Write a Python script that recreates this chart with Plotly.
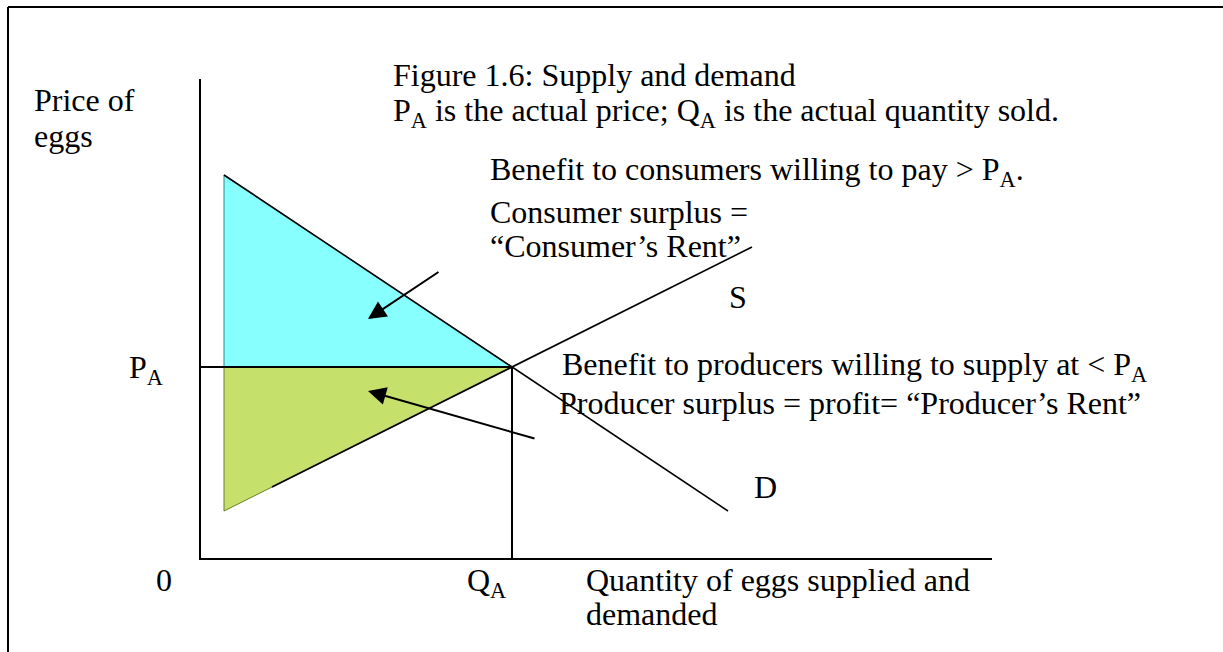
import plotly.graph_objects as go

# diagram units: quantity (x) and price (y)
eq_q = 13
eq_p = 8
demand_q = [1, 22]
demand_p = [16, 2]
supply_q = [3, 23]
supply_p = [3, 13]
cs_q = [1, 1, eq_q, 1]
cs_p = [16, eq_p, eq_p, 16]
ps_q = [1, 1, eq_q, 1]
ps_p = [eq_p, 2, eq_p, eq_p]
axis_q_max = 33
axis_p_max = 20

W, H = 1223, 652
OX, OY, U = 200, 559, 24  # pixel origin and pixels per unit


def at(px, py):
    return (px - OX) / U, (OY - py) / U


FONT = dict(family="Liberation Serif, Times New Roman, serif", size=32, color="black")

fig = go.Figure()

fig.add_trace(go.Scatter(x=cs_q, y=cs_p, fill="toself", fillcolor="#88FFFF",
                         mode="lines", line=dict(color="#2a8a8a", width=1),
                         hoverinfo="skip"))
fig.add_trace(go.Scatter(x=ps_q, y=ps_p, fill="toself", fillcolor="#C6E06C",
                         mode="lines", line=dict(color="#6b7d20", width=1),
                         hoverinfo="skip"))

# axes
fig.add_trace(go.Scatter(x=[0, 0, axis_q_max], y=[axis_p_max, 0, 0], mode="lines",
                         line=dict(color="black", width=2), hoverinfo="skip"))
# price / quantity guides
fig.add_trace(go.Scatter(x=[0, eq_q, eq_q], y=[eq_p, eq_p, 0], mode="lines",
                         line=dict(color="black", width=2), hoverinfo="skip"))
# demand and supply
fig.add_trace(go.Scatter(x=demand_q, y=demand_p, mode="lines",
                         line=dict(color="black", width=1.6), hoverinfo="skip"))
fig.add_trace(go.Scatter(x=supply_q, y=supply_p, mode="lines",
                         line=dict(color="black", width=1.6), hoverinfo="skip"))

labels = [
    ("Price of", 32, 100),
    ("eggs", 32, 136),
    ("Figure 1.6: Supply and demand", 391, 75),
    ("P<sub>A</sub> is the actual price; Q<sub>A</sub> is the actual quantity sold.", 391, 112),
    ("Benefit to consumers willing to pay > P<sub>A</sub>.", 488, 171),
    ("Consumer surplus =", 488, 212),
    ("\u201cConsumer\u2019s Rent\u201d", 488, 246),
    ("S", 727, 297),
    ("Benefit to producers willing to supply at < P<sub>A</sub>", 560, 366),
    ("Producer surplus = profit= \u201cProducer\u2019s Rent\u201d", 557, 403),
    ("D", 752, 487),
    ("P<sub>A</sub>", 127, 369),
    ("0", 154, 580),
    ("Q<sub>A</sub>", 465, 582),
    ("Quantity of eggs supplied and", 584, 580),
    ("demanded", 584, 614),
]
for text, px, py in labels:
    x, y = at(px, py)
    fig.add_annotation(x=x, y=y, text=text, showarrow=False, xanchor="left",
                       yanchor="middle", font=FONT)

# arrows pointing into the surplus areas
for tail, head in [((10, 12), (7, 10)), ((14, 5), (7, 7))]:
    fig.add_annotation(x=head[0], y=head[1], ax=tail[0], ay=tail[1],
                       axref="x", ayref="y", text="", showarrow=True,
                       arrowhead=2, arrowsize=1.8, arrowwidth=2, arrowcolor="black")

# page border
fig.add_shape(type="line", xref="paper", yref="paper", x0=8 / W, x1=1,
              y0=1 - 7 / H, y1=1 - 7 / H, line=dict(color="black", width=2))
fig.add_shape(type="line", xref="paper", yref="paper", x0=8 / W, x1=8 / W,
              y0=0, y1=1 - 7 / H, line=dict(color="black", width=2))

fig.update_layout(
    width=W,
    height=H,
    margin=dict(l=0, r=0, t=0, b=0),
    paper_bgcolor="white",
    plot_bgcolor="white",
    showlegend=False,
    xaxis=dict(range=[-OX / U, (W - OX) / U], visible=False, fixedrange=True),
    yaxis=dict(range=[(OY - H) / U, OY / U], visible=False, fixedrange=True),
)

fig.write_html("out.html", config={"displayModeBar": False},
               post_script="document.body.style.margin='0';")
